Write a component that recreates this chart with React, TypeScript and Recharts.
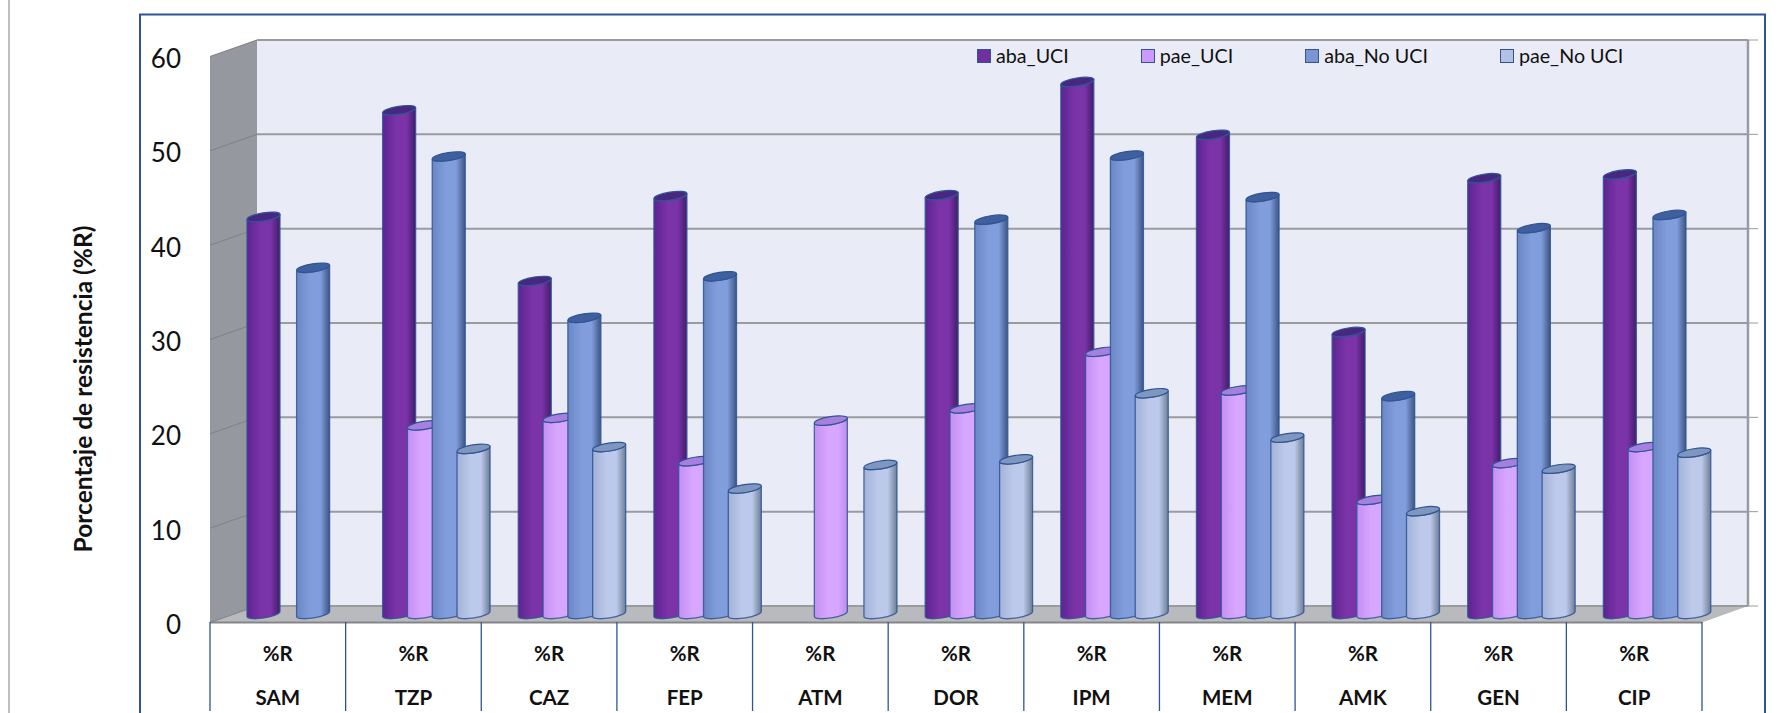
import { Bar, BarChart, CartesianGrid, Legend, XAxis, YAxis } from 'recharts';

const FONT = 'Lato, Carlito, sans-serif';

const categories = ['SAM', 'TZP', 'CAZ', 'FEP', 'ATM', 'DOR', 'IPM', 'MEM', 'AMK', 'GEN', 'CIP'];
const measureLabel = '%R';
const yTicks = [0, 10, 20, 30, 40, 50, 60];

const abaUci = [42.1, 53.4, 35.3, 44.3, null, 44.4, 56.4, 50.8, 29.9, 46.2, 46.6];
const paeUci = [null, 20.0, 20.8, 16.2, 20.5, 21.8, 27.8, 23.7, 12.1, 16.0, 17.7];
const abaNoUci = [36.7, 48.5, 31.4, 35.8, null, 41.8, 48.6, 44.2, 23.1, 40.9, 42.3];
const paeNoUci = [null, 17.5, 17.7, 13.3, 15.8, 16.4, 23.4, 18.7, 10.9, 15.4, 17.1];

const rows = categories.map((name, i) => ({
  name,
  abaUci: abaUci[i],
  paeUci: paeUci[i],
  abaNoUci: abaNoUci[i],
  paeNoUci: paeNoUci[i],
}));

const SERIES = [
  { key: 'abaUci', name: 'aba_UCI', swatch: '#7030a0', top: '#47277f', stops: ['#5c2490', '#7b33a8', '#431c6c'] },
  { key: 'paeUci', name: 'pae_UCI', swatch: '#cc99ff', top: '#a67fe0', stops: ['#c48ff2', '#d7a6ff', '#bd8cee'] },
  { key: 'abaNoUci', name: 'aba_No UCI', swatch: '#7b94d4', top: '#3f5f9f', stops: ['#6a87c4', '#829ddc', '#3d5585'] },
  { key: 'paeNoUci', name: 'pae_No UCI', swatch: '#b4c1e4', top: '#7f96bf', stops: ['#a3b2d8', '#bcc9ea', '#6e7e96'] },
];

const WIDTH = 1790;
const HEIGHT = 713;
const PLOT_LEFT = 210;
const PLOT_RIGHT = 1702;
const PLOT_TOP = 48;
const PLOT_BOTTOM = 614;
const BAND = (PLOT_RIGHT - PLOT_LEFT) / categories.length;

// fake 3d box: the bars stand mid-depth, back wall is up and right of them
const WALL_X = 257;
const WALL_RIGHT = 1748;
const BACK_DY = -8;
const FRONT_DY = 8.5;
const BAR_SHIFT = 19;
const BAR_WIDTH = 33;
const TILT = -9;

const EDGE = '#2f5597';
const GRID = '#9a9b9f';

function Cylinder(props: any) {
  const { x, y, height, value, series } = props;
  if (value == null || height == null || height <= 0) return null;
  const left = x + BAR_SHIFT;
  const right = left + BAR_WIDTH;
  const cx = (left + right) / 2;
  const rx = BAR_WIDTH / 2 + 0.2;
  const ry = 4;
  const rise = (BAR_WIDTH / 2) * Math.tan((-TILT * Math.PI) / 180);
  const bottom = y + height;
  const body = [
    `M${left},${y + rise}`,
    `L${left},${bottom + rise}`,
    `A${rx},${ry} ${TILT} 0 0 ${right},${bottom - rise}`,
    `L${right},${y - rise}`,
    `A${rx},${ry} ${TILT} 0 1 ${left},${y + rise}`,
    'Z',
  ].join(' ');
  return (
    <g>
      <path d={body} fill={`url(#cyl-${series.key})`} stroke={EDGE} strokeWidth={1.3} strokeOpacity={0.85} />
      <ellipse
        cx={cx}
        cy={y}
        rx={rx}
        ry={ry}
        transform={`rotate(${TILT} ${cx} ${y})`}
        fill={series.top}
        stroke={EDGE}
        strokeWidth={1.2}
      />
    </g>
  );
}

// each tick line becomes back wall line + side wall diagonal + short stub on the right
function WallGridLine(props: any) {
  const { y1, index } = props;
  return (
    <g key={index}>
      <line x1={WALL_X} x2={WALL_RIGHT} y1={y1 + BACK_DY} y2={y1 + BACK_DY} stroke={GRID} strokeWidth={2} />
      <line x1={PLOT_LEFT} x2={WALL_X} y1={y1 + FRONT_DY} y2={y1 + BACK_DY} stroke="#7f8086" strokeWidth={1} />
      <line x1={WALL_RIGHT} x2={1758} y1={y1 + BACK_DY} y2={y1 + BACK_DY} stroke={GRID} strokeWidth={1} />
    </g>
  );
}

function CategoryTick(props: any) {
  const { x, payload, index } = props;
  const isLast = index === categories.length - 1;
  const textStyle = { fontFamily: FONT, fontWeight: 700, fontSize: 20.5, fill: '#111' };
  return (
    <g>
      <line x1={x - BAND / 2} x2={x - BAND / 2} y1={622} y2={711} stroke={EDGE} strokeWidth={1.3} />
      {isLast && <line x1={x + BAND / 2} x2={x + BAND / 2} y1={622} y2={711} stroke={EDGE} strokeWidth={1.3} />}
      <text x={x} y={653} textAnchor="middle" dominantBaseline="central" style={textStyle}>
        {measureLabel}
      </text>
      <text x={x} y={697} textAnchor="middle" dominantBaseline="central" style={textStyle}>
        {payload.value}
      </text>
    </g>
  );
}

function ValueTick(props: any) {
  const { y, payload } = props;
  return (
    <text
      x={181}
      y={y + 10}
      textAnchor="end"
      dominantBaseline="central"
      style={{ fontFamily: FONT, fontSize: 26, fill: '#111' }}
    >
      {payload.value}
    </text>
  );
}

function LegendRow({ payload }: any) {
  return (
    <div style={{ display: 'flex', gap: 72, fontFamily: FONT, fontSize: 19.7, color: '#111', lineHeight: '20px' }}>
      {(payload || []).map((entry: any) => {
        const series = SERIES.find((s) => s.name === entry.value);
        return (
          <div key={entry.value} style={{ display: 'flex', alignItems: 'center', gap: 5, whiteSpace: 'nowrap' }}>
            <span
              style={{
                width: 12,
                height: 12,
                background: series?.swatch,
                border: `1px solid ${EDGE}`,
                display: 'inline-block',
              }}
            />
            {entry.value}
          </div>
        );
      })}
    </div>
  );
}

function Backdrop() {
  const frontTop = PLOT_TOP + FRONT_DY;
  const frontBottom = PLOT_BOTTOM + FRONT_DY;
  const backTop = PLOT_TOP + BACK_DY;
  const backBottom = PLOT_BOTTOM + BACK_DY;
  return (
    <svg width={WIDTH} height={HEIGHT} style={{ position: 'absolute', left: 0, top: 0 }}>
      <line x1={9} x2={9} y1={0} y2={HEIGHT} stroke="#a9a9a9" strokeWidth={1.5} />
      <path
        d={`M140,${HEIGHT} L140,14.5 L1765,14.5 L1765,${HEIGHT}`}
        fill="none"
        stroke="#2f5496"
        strokeWidth={2}
      />
      <rect x={WALL_X} y={backTop} width={WALL_RIGHT - WALL_X} height={backBottom - backTop} fill="#e9ebf6" />
      <polygon
        points={`${PLOT_LEFT},${frontTop} ${WALL_X},${backTop} ${WALL_X},${backBottom} ${PLOT_LEFT},${frontBottom}`}
        fill="#96989f"
      />
      <polygon
        points={`${PLOT_LEFT},${frontBottom} ${WALL_X},${backBottom} ${WALL_RIGHT},${backBottom} ${PLOT_RIGHT},${frontBottom}`}
        fill="#b9babd"
      />
      <line x1={WALL_RIGHT} x2={WALL_RIGHT} y1={backTop} y2={backBottom} stroke={GRID} strokeWidth={2.5} />
      <line x1={PLOT_LEFT} x2={PLOT_RIGHT} y1={frontBottom} y2={frontBottom} stroke="#85868c" strokeWidth={2} />
    </svg>
  );
}

export default function App() {
  return (
    <div style={{ position: 'absolute', left: 0, top: 0, width: WIDTH, height: HEIGHT, background: '#fff', overflow: 'hidden' }}>
      <Backdrop />
      <div style={{ position: 'absolute', left: 0, top: 0 }}>
        <BarChart
          width={WIDTH}
          height={HEIGHT}
          data={rows}
          margin={{ top: PLOT_TOP, right: WIDTH - PLOT_RIGHT, bottom: 0, left: 0 }}
          barCategoryGap={0}
          barGap={0}
          barSize={24.8}
        >
          <defs>
            {SERIES.map((s) => (
              <linearGradient key={s.key} id={`cyl-${s.key}`} x1="0" x2="1" y1="0" y2="0">
                <stop offset="0%" stopColor={s.stops[0]} />
                <stop offset="42%" stopColor={s.stops[1]} />
                <stop offset="72%" stopColor={s.stops[1]} />
                <stop offset="100%" stopColor={s.stops[2]} />
              </linearGradient>
            ))}
          </defs>
          <CartesianGrid vertical={false} horizontal={WallGridLine as any} />
          <XAxis
            dataKey="name"
            height={HEIGHT - PLOT_BOTTOM}
            axisLine={false}
            tickLine={false}
            interval={0}
            tick={CategoryTick as any}
          />
          <YAxis
            domain={[0, 60]}
            ticks={yTicks}
            width={PLOT_LEFT}
            axisLine={false}
            tickLine={false}
            tick={ValueTick as any}
            label={{
              content: () => (
                <text
                  transform="translate(82 389) rotate(-90)"
                  textAnchor="middle"
                  dominantBaseline="central"
                  style={{ fontFamily: FONT, fontWeight: 700, fontSize: 24.5, fill: '#111' }}
                >
                  Porcentaje de resistencia (%R)
                </text>
              ),
            }}
          />
          <Legend
            layout="horizontal"
            verticalAlign="middle"
            align="center"
            itemSorter={null}
            wrapperStyle={{ left: 977, top: 46, width: 700 }}
            content={LegendRow as any}
          />
          {SERIES.map((s) => (
            <Bar
              key={s.key}
              dataKey={s.key}
              name={s.name}
              fill={s.swatch}
              isAnimationActive={false}
              shape={(p: any) => <Cylinder {...p} series={s} />}
            />
          ))}
        </BarChart>
      </div>
    </div>
  );
}
